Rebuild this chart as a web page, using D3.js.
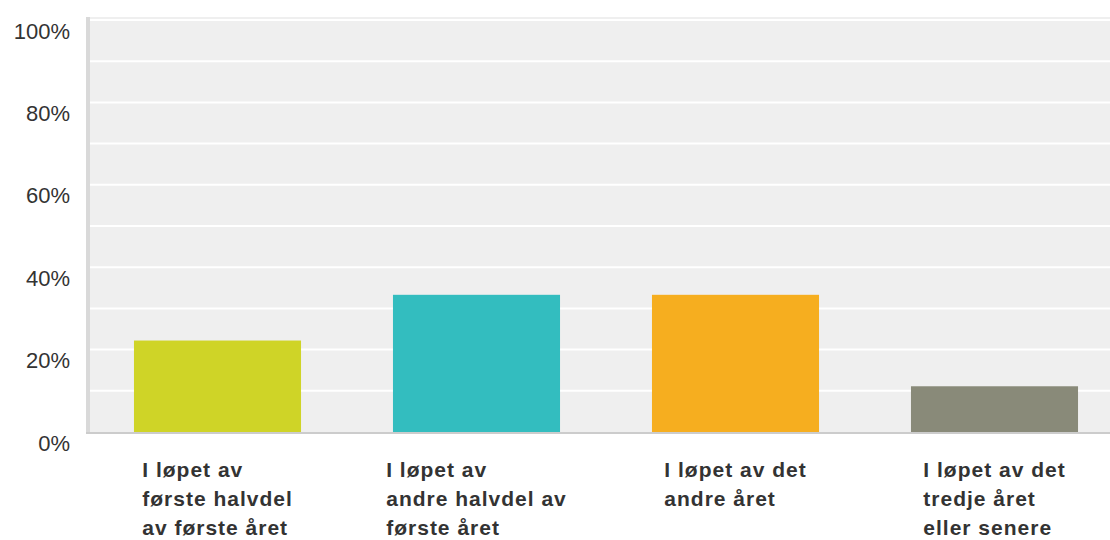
<!DOCTYPE html>
<html>
<head>
<meta charset="utf-8">
<script src="https://cdn.jsdelivr.net/npm/d3@7"></script>
<style>
  body { margin: 0; background: #fff; }
  svg { display: block; font-family: "Liberation Sans", Arial, sans-serif; }
</style>
</head>
<body>
<div id="chart"></div>
<script>
// data
var categories = [
  ["I løpet av", "første halvdel", "av første året"],
  ["I løpet av", "andre halvdel av", "første året"],
  ["I løpet av det", "andre året"],
  ["I løpet av det", "tredje året", "eller senere"]
];
var values = [0.222, 0.333, 0.333, 0.111];
var colors = ["#cfd427", "#33bdbf", "#f6ae1f", "#898a79"];
var yTicks = [0, 0.2, 0.4, 0.6, 0.8, 1];
var gridTicks = [0.1, 0.2, 0.3, 0.4, 0.5, 0.6, 0.7, 0.8, 0.9, 1];

function drawChart() {
   var width = 1110, height = 540;
   var plotLeft = 88, plotTop = 17, plotBottom = 432;

   var svg = d3.select("#chart")
      .append("svg")
      .attr("width", width)
      .attr("height", height);

   var x = d3.scaleBand()
      .domain(d3.range(values.length))
      .range([plotLeft, 1124])
      .paddingInner(0.355)
      .paddingOuter(0.1775);

   var y = d3.scaleLinear().domain([0, 1]).range([plotBottom, 20]);

   // plot background
   svg.append("rect")
      .attr("x", plotLeft)
      .attr("y", plotTop)
      .attr("width", width - plotLeft)
      .attr("height", plotBottom - plotTop)
      .attr("fill", "#efefef");

   // grid lines
   svg.selectAll(".grid")
      .data(gridTicks)
      .enter().append("line")
      .attr("class", "grid")
      .attr("x1", plotLeft + 2)
      .attr("x2", width)
      .attr("y1", function(d) {return y(d)})
      .attr("y2", function(d) {return y(d)})
      .attr("stroke", "#ffffff")
      .attr("stroke-width", 2);

   // bars
   svg.selectAll(".bar")
      .data(values)
      .enter().append("rect")
      .attr("class", "bar")
      .attr("x", function(d, i) {return x(i)})
      .attr("y", function(d) {return y(d)})
      .attr("width", x.bandwidth())
      .attr("height", function(d) {return y(0) - y(d)})
      .attr("fill", function(d, i) {return colors[i]});

   // left axis line and baseline
   svg.append("line")
      .attr("x1", plotLeft).attr("x2", plotLeft)
      .attr("y1", plotTop).attr("y2", plotBottom + 2)
      .attr("stroke", "#d9d9d9")
      .attr("stroke-width", 4);
   svg.append("line")
      .attr("x1", plotLeft - 2).attr("x2", width)
      .attr("y1", plotBottom + 1).attr("y2", plotBottom + 1)
      .attr("stroke", "#cccccc")
      .attr("stroke-width", 2);

   // y axis labels (sit a bit below their grid lines, as in the original)
   var yAxis = svg.append("g")
      .attr("transform", "translate(70,0)")
      .call(d3.axisLeft(y).tickValues(yTicks).tickSize(0).tickPadding(0).tickFormat(d3.format(".0%")));
   yAxis.select(".domain").remove();
   yAxis.selectAll("text")
      .attr("dy", "0.32em")
      .attr("y", 11)
      .attr("fill", "#333333")
      .style("font-size", "22px")
      .style("font-family", "'Liberation Sans', Arial, sans-serif");

   // category labels, block centred under each bar
   var labels = svg.selectAll(".cat")
      .data(categories)
      .enter().append("text")
      .attr("class", "cat")
      .attr("fill", "#333333")
      .style("font-size", "21px")
      .style("font-weight", "bold")
      .style("letter-spacing", "1px");

   labels.each(function(lines, i) {
      var t = d3.select(this);
      lines.forEach(function(line, j) {
         t.append("tspan").attr("y", 477 + j * 29).text(line);
      });
      var maxW = d3.max(t.selectAll("tspan").nodes(), function(n) {return n.getComputedTextLength()});
      var x0 = x(i) + x.bandwidth() / 2 - maxW / 2;
      t.selectAll("tspan").attr("x", x0);
   });
}

drawChart();
</script>
</body>
</html>
